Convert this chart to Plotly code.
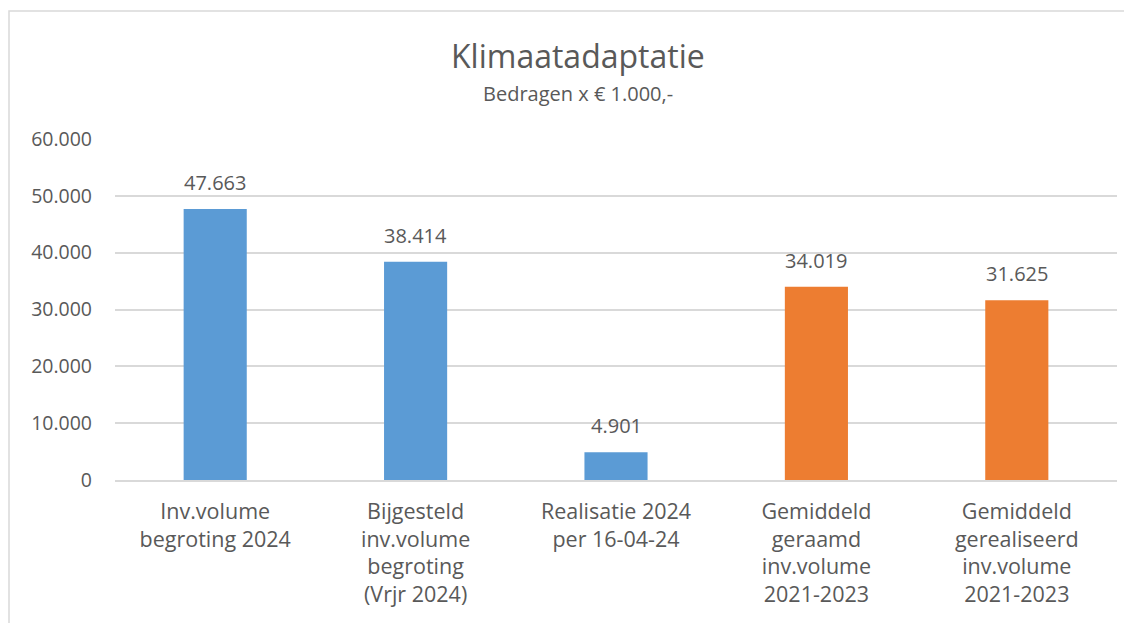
import plotly.graph_objects as go

categories = [
    "Inv.volume<br>begroting 2024",
    "Bijgesteld<br>inv.volume<br>begroting<br>(Vrjr 2024)",
    "Realisatie 2024<br>per 16-04-24",
    "Gemiddeld<br>geraamd<br>inv.volume<br>2021-2023",
    "Gemiddeld<br>gerealiseerd<br>inv.volume<br>2021-2023",
]
values = [47663, 38414, 4901, 34019, 31625]
colors = ["#5B9BD5", "#5B9BD5", "#5B9BD5", "#ED7D31", "#ED7D31"]
tick_vals = [0, 10000, 20000, 30000, 40000, 50000, 60000]

def nl(v):
    return f"{v:,.0f}".replace(",", ".")

FONT = "Open Sans"
GREY = "#595959"

# page body has an 8px margin: figure drawn at (8,8)
W, H = 1124, 615
L, T, R, B = 107, 131, 15, 143
PW, PH = W - L - R, H - T - B

fig = go.Figure()
fig.add_trace(go.Bar(
    x=categories, y=values, marker=dict(color=colors, line=dict(width=0)),
    width=0.315, hoverinfo="skip",
))

for c, v in zip(categories, values):
    fig.add_annotation(x=c, y=v, text=nl(v), showarrow=False, yanchor="bottom",
                       yshift=11, font=dict(family=FONT, size=20, color=GREY))

title_x = (570 - L) / PW
fig.add_annotation(xref="paper", yref="paper", x=title_x, y=1, yshift=84, yanchor="middle",
                   text="Klimaatadaptatie", showarrow=False,
                   font=dict(family=FONT, size=32, color=GREY))
fig.add_annotation(xref="paper", yref="paper", x=title_x, y=1, yshift=46, yanchor="middle",
                   text="Bedragen x € 1.000,-", showarrow=False,
                   font=dict(family=FONT, size=20, color=GREY))

# chart border (light grey), extending beyond the visible window at right/bottom
fig.add_shape(type="rect", xref="paper", yref="paper",
              x0=(1 - L) / PW, x1=(W + 20 - L) / PW,
              y0=-(B + 20) / PH, y1=1 + (T - 3) / PH,
              line=dict(color="#D9D9D9", width=1.5), layer="below")

fig.update_layout(
    width=W, height=H,
    margin=dict(l=L, r=R, t=T, b=B),
    paper_bgcolor="white", plot_bgcolor="white",
    separators=",.",
    showlegend=False,
    font=dict(family=FONT, size=20, color=GREY),
    xaxis=dict(showgrid=False, showline=True, linecolor="#D9D9D9", linewidth=1.5,
               ticks="", tickfont=dict(size=21.5, color=GREY), ticklabelstandoff=11),
    yaxis=dict(range=[0, 60000], tickvals=tick_vals, tickformat=",.0f",
               showgrid=True, gridcolor="#D9D9D9", gridwidth=1.5, zeroline=False,
               showline=False, ticks="", tickfont=dict(size=19.5, color=GREY),
               ticklabelstandoff=22),
)

fig.write_html("out.html")
